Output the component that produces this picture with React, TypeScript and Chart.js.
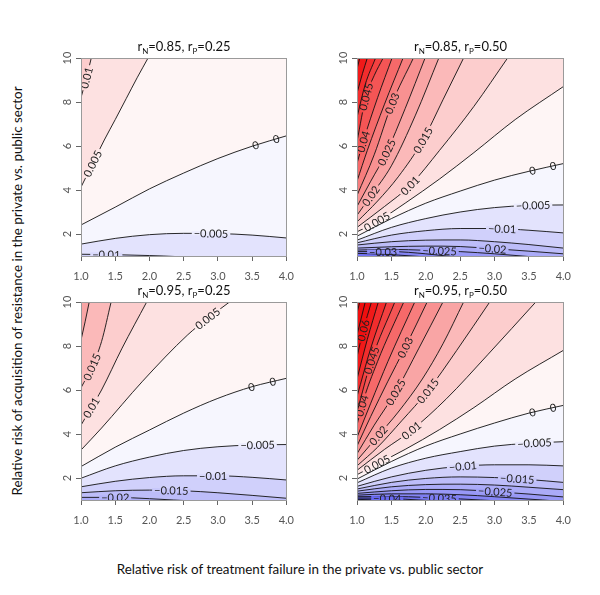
import React, { useEffect, useRef } from "react";
import { Chart, registerables } from "chart.js";
Chart.register(...registerables);

const FONT = "Lato, 'Open Sans', 'DejaVu Sans', sans-serif";

type Pt = [number, number];

const xTicks = [1.0, 1.5, 2.0, 2.5, 3.0, 3.5, 4.0];
const yTicks = [2, 4, 6, 8, 10];

// ---------- Panel 1: rN=0.85, rP=0.25 ----------
const p1Levels = [0.01, 0.005, 0, -0.005, -0.01];
const p1Lines: Pt[][] = [
  [[1, 8.2], [1.08, 9.1], [1.15, 10]],
  [[1, 4.13], [1.17, 5.2], [1.34, 6.27], [1.5, 7.2], [1.66, 8.15], [1.82, 9.1], [1.98, 10]],
  [[1, 2.41], [1.5, 3.22], [2, 4.05], [2.5, 4.77], [3, 5.43], [3.5, 5.99], [4, 6.46]],
  [[1, 1.54], [1.5, 1.8], [2, 1.97], [2.5, 2.03], [3, 2.02], [3.5, 1.95], [4, 1.82]],
  [[1, 1.08], [1.5, 1.06], [2, 1.02], [2.2, 1.0], [2.5, 0.96], [4, 0.8]],
];
const p1Labels: Pt[] = [[0.01, 1.08], [0.005, 1.17], [0, 3.55], [0, 3.85], [-0.005, 2.9], [-0.01, 1.37]];

// ---------- Panel 2: rN=0.85, rP=0.50 ----------
const p2Levels = [0.06, 0.055, 0.05, 0.045, 0.04, 0.035, 0.03, 0.025, 0.02, 0.015, 0.01, 0.005, 0,
  -0.005, -0.01, -0.015, -0.02, -0.025, -0.03, -0.035];
const p2Lines: Pt[][] = [
  [[1, 9.5], [1.04, 10]],
  [[1, 8.4], [1.08, 9.3], [1.15, 10]],
  [[1, 7.3], [1.12, 8.8], [1.27, 10]],
  [[1, 6.2], [1.13, 8.24], [1.25, 9.2], [1.38, 10]],
  [[1, 5.2], [1.09, 6.2], [1.3, 8.2], [1.51, 10]],
  [[1, 4.4], [1.15, 5.8], [1.4, 7.9], [1.67, 10]],
  [[1, 3.75], [1.25, 5.6], [1.51, 7.94], [1.82, 10]],
  [[1, 3.25], [1.2, 4.4], [1.43, 5.71], [1.7, 7.7], [1.99, 10]],
  [[1, 2.85], [1.2, 3.73], [1.5, 5.1], [1.85, 7.4], [2.19, 10]],
  [[1, 2.55], [1.3, 3.5], [1.6, 4.6], [1.96, 6.27], [2.25, 8.1], [2.55, 10]],
  [[1, 2.3], [1.4, 3.25], [1.77, 4.2], [2.2, 5.8], [2.7, 7.8], [3.19, 10]],
  [[1, 2.1], [1.29, 2.56], [1.7, 3.4], [2.2, 4.5], [2.7, 5.7], [3.3, 7.2], [4, 8.7]],
  [[1, 1.9], [1.5, 2.7], [2, 3.4], [2.5, 3.95], [3, 4.45], [3.5, 4.85], [4, 5.2]],
  [[1, 1.72], [1.5, 2.3], [2, 2.7], [2.5, 3.0], [3, 3.2], [3.5, 3.3], [4, 3.32]],
  [[1, 1.6], [1.5, 1.95], [2, 2.15], [2.5, 2.25], [3, 2.25], [3.5, 2.17], [4, 2.05]],
  [[1, 1.5], [1.5, 1.65], [2, 1.72], [2.5, 1.73], [3, 1.65], [3.5, 1.52], [4, 1.36]],
  [[1, 1.36], [1.5, 1.42], [2, 1.45], [2.5, 1.43], [3, 1.33], [3.5, 1.22], [4, 1.1]],
  [[1, 1.27], [1.5, 1.3], [2, 1.26], [2.5, 1.2], [3, 1.1], [3.4, 1.0], [4, 0.85]],
  [[1, 1.2], [1.5, 1.2], [2, 1.1], [2.3, 1.0], [4, 0.6]],
  [[1, 1.12], [1.4, 1.08], [1.8, 1.0], [4, 0.55]],
];
const p2Labels: Pt[] = [[0.045, 1.13], [0.04, 1.09], [0.03, 1.51], [0.025, 1.43], [0.02, 1.2], [0.015, 1.96],
  [0.01, 1.77], [0.005, 1.29], [0, 3.55], [0, 3.85], [-0.005, 3.56], [-0.01, 3.11], [-0.02, 2.97],
  [-0.025, 2.2], [-0.03, 1.38]];

// ---------- Panel 3: rN=0.95, rP=0.25 ----------
const p3Levels = [0.02, 0.015, 0.01, 0.005, 0, -0.005, -0.01, -0.015, -0.02];
const p3Lines: Pt[][] = [
  [[1, 8.27], [1.06, 9.1], [1.12, 10]],
  [[1, 6.1], [1.16, 7.05], [1.3, 8.2], [1.44, 10]],
  [[1, 4.4], [1.15, 5.2], [1.3, 6.0], [1.6, 7.9], [1.96, 10]],
  [[1, 3.27], [1.3, 4.27], [1.9, 6.4], [2.56, 8.51], [2.85, 9.25], [3.17, 10]],
  [[1, 2.52], [1.5, 3.4], [2, 4.18], [2.5, 4.95], [3, 5.62], [3.5, 6.15], [4, 6.53]],
  [[1, 1.99], [1.5, 2.55], [2, 2.95], [2.5, 3.25], [3, 3.42], [3.5, 3.5], [4, 3.52]],
  [[1, 1.6], [1.5, 1.85], [2, 2.02], [2.5, 2.1], [3, 2.1], [3.5, 2.03], [4, 1.91]],
  [[1, 1.33], [1.5, 1.42], [2, 1.45], [2.5, 1.42], [3, 1.33], [3.5, 1.21], [4, 1.08]],
  [[1, 1.12], [1.5, 1.12], [2, 1.06], [2.35, 1.0], [3, 0.9], [4, 0.7]],
];
const p3Labels: Pt[] = [[0.015, 1.16], [0.01, 1.15], [0.005, 2.85], [0, 3.49], [0, 3.8], [-0.005, 3.58],
  [-0.01, 2.93], [-0.015, 2.32], [-0.02, 1.5]];

// ---------- Panel 4: rN=0.95, rP=0.50 ----------
const p4Levels = [0.07, 0.065, 0.06, 0.055, 0.05, 0.045, 0.04, 0.035, 0.03, 0.025, 0.02, 0.015, 0.01, 0.005, 0,
  -0.005, -0.01, -0.015, -0.02, -0.025, -0.03, -0.035, -0.04, -0.045];
const p4Lines: Pt[][] = [
  [[1, 9.5], [1.04, 10]],
  [[1, 8.5], [1.12, 10]],
  [[1, 7.5], [1.09, 8.71], [1.21, 10]],
  [[1, 6.5], [1.15, 8.3], [1.31, 10]],
  [[1, 5.7], [1.2, 7.9], [1.43, 10]],
  [[1, 5.0], [1.21, 7.35], [1.55, 10]],
  [[1, 4.4], [1.07, 5.29], [1.3, 7.3], [1.68, 10]],
  [[1, 3.85], [1.2, 5.4], [1.45, 7.3], [1.84, 10]],
  [[1, 3.45], [1.2, 4.8], [1.45, 6.4], [1.7, 7.93], [2.02, 10]],
  [[1, 3.1], [1.25, 4.4], [1.56, 5.9], [1.9, 7.9], [2.25, 10]],
  [[1, 2.8], [1.31, 3.93], [1.6, 5.0], [1.95, 6.5], [2.25, 8.1], [2.55, 10]],
  [[1, 2.55], [1.3, 3.4], [1.65, 4.6], [2.03, 5.96], [2.45, 7.8], [2.93, 10]],
  [[1, 2.35], [1.4, 3.3], [1.79, 4.16], [2.3, 5.6], [2.9, 7.6], [3.6, 10]],
  [[1, 2.15], [1.29, 2.63], [1.7, 3.3], [2.2, 4.2], [2.7, 5.2], [3.3, 6.5], [4, 7.8]],
  [[1, 1.95], [1.5, 2.75], [2, 3.45], [2.5, 4.0], [3, 4.5], [3.5, 4.95], [4, 5.3]],
  [[1, 1.78], [1.5, 2.45], [2, 2.9], [2.5, 3.2], [3, 3.45], [3.5, 3.58], [4, 3.65]],
  [[1, 1.62], [1.5, 2.05], [2, 2.35], [2.5, 2.53], [3, 2.6], [3.5, 2.6], [4, 2.55]],
  [[1, 1.5], [1.5, 1.8], [2, 1.98], [2.5, 2.05], [3, 2.02], [3.5, 1.93], [4, 1.8]],
  [[1, 1.4], [1.5, 1.6], [2, 1.7], [2.5, 1.72], [3, 1.68], [3.5, 1.58], [4, 1.47]],
  [[1, 1.3], [1.5, 1.42], [2, 1.48], [2.5, 1.47], [3, 1.38], [3.5, 1.27], [4, 1.14]],
  [[1, 1.22], [1.5, 1.28], [2, 1.28], [2.5, 1.24], [3, 1.15], [3.5, 1.04], [3.7, 1.0], [4, 0.93]],
  [[1, 1.15], [1.5, 1.16], [2, 1.12], [2.5, 1.05], [2.8, 1.0], [4, 0.8]],
  [[1, 1.09], [1.5, 1.07], [1.9, 1.0], [4, 0.7]],
  [[1, 1.03], [1.3, 1.0], [4, 0.6]],
];
const p4Labels: Pt[] = [[0.06, 1.09], [0.045, 1.21], [0.04, 1.07], [0.03, 1.7], [0.025, 1.56], [0.02, 1.31],
  [0.015, 2.03], [0.01, 1.79], [0.005, 1.29], [0, 3.55], [0, 3.85], [-0.005, 3.58], [-0.01, 2.54],
  [-0.015, 3.33], [-0.025, 3.01], [-0.035, 2.2], [-0.04, 1.44]];

const PANELS = [
  { rn: "0.85", rp: "0.25", levels: p1Levels, lines: p1Lines, labels: p1Labels, L: 81, T: 58, R: 287, B: 256 },
  { rn: "0.85", rp: "0.50", levels: p2Levels, lines: p2Lines, labels: p2Labels, L: 357, T: 58, R: 564, B: 256 },
  { rn: "0.95", rp: "0.25", levels: p3Levels, lines: p3Lines, labels: p3Labels, L: 81, T: 302, R: 287, B: 500 },
  { rn: "0.95", rp: "0.50", levels: p4Levels, lines: p4Lines, labels: p4Labels, L: 357, T: 302, R: 564, B: 500 },
];

const POS = [240, 15, 15];
const NEG = [30, 30, 235];
const ZMAX = 0.06;
function colorFor(z: number) {
  const t = Math.min(Math.abs(z) / ZMAX, 1);
  const e = z >= 0 ? POS : NEG;
  const c = e.map((v) => Math.round(255 + (v - 255) * t));
  return `rgb(${c[0]},${c[1]},${c[2]})`;
}

const PAD_L = 45, PAD_T = 10, PAD_R = 16, PAD_B = 40;

function ContourPanel({ panel }: { panel: any }) {
  const ref = useRef<HTMLCanvasElement>(null);
  const W = panel.R - panel.L + PAD_L + PAD_R;
  const H = panel.B - panel.T + PAD_T + PAD_B;

  useEffect(() => {
    const idx = panel.levels.map((_: number, i: number) => i)
      .sort((a: number, b: number) => panel.levels[b] - panel.levels[a]);
    const lvls: number[] = idx.map((i: number) => panel.levels[i]);
    const lines: Pt[][] = idx.map((i: number) => panel.lines[i]);
    const datasets = lvls.map((lv, k) => ({
      data: lines[k].map(([x, y]) => ({ x, y })),
      borderColor: "#111",
      borderWidth: 0.9,
      pointRadius: 0,
      fill: "end",
      backgroundColor: colorFor(lv + 0.0025),
      cubicInterpolationMode: "monotone",
    }));
    const minLv = lvls[lvls.length - 1];

    const bgPlugin = {
      id: "bg",
      beforeDraw(chart: any) {
        const { ctx, chartArea: a } = chart;
        ctx.save();
        ctx.fillStyle = colorFor(minLv - 0.0025);
        ctx.fillRect(a.left, a.top, a.right - a.left, a.bottom - a.top);
        ctx.restore();
      },
    };

    const labelPlugin = {
      id: "clabels",
      afterDatasetsDraw(chart: any) {
        const { ctx, chartArea: a } = chart;
        const xs = chart.scales.x;
        ctx.save();
        ctx.beginPath();
        ctx.rect(a.left, a.top, a.right - a.left, a.bottom - a.top);
        ctx.clip();
        ctx.font = `11px ${FONT}`;
        panel.labels.forEach(([lv, x]: Pt) => {
          const k = lvls.findIndex((v) => Math.abs(v - lv) < 1e-9);
          if (k < 0) return;
          const el = chart.getDatasetMeta(k).dataset;
          const px = xs.getPixelForValue(x);
          const pick = (q: any) => (Array.isArray(q) ? q[0] : q);
          const p0 = pick(el.interpolate({ x: px }, "x"));
          if (!p0) return;
          const pa = pick(el.interpolate({ x: px - 1.5 }, "x")) || p0;
          const pb = pick(el.interpolate({ x: px + 1.5 }, "x")) || p0;
          const ang = Math.atan2(pb.y - pa.y, pb.x - pa.x);
          const text = lv === 0 ? "0" : (lv < 0 ? "\u2212" : "") + String(Math.abs(lv));
          const tw = ctx.measureText(text).width;
          ctx.save();
          ctx.translate(p0.x, p0.y);
          ctx.rotate(ang);
          if (lv !== 0) {
            ctx.fillStyle = colorFor(lv);
            ctx.fillRect(-tw / 2 - 2, -2, tw + 4, 4);
          }
          ctx.fillStyle = "#222";
          ctx.textAlign = "center";
          ctx.textBaseline = "middle";
          ctx.fillText(text, 0, 0.5);
          ctx.restore();
        });
        ctx.restore();
      },
    };

    const framePlugin = {
      id: "frame",
      afterDraw(chart: any) {
        const { ctx, chartArea: a } = chart;
        const ys = chart.scales.y;
        ctx.save();
        ctx.strokeStyle = "#9a9a9a";
        ctx.lineWidth = 1;
        ctx.strokeRect(Math.round(a.left) + 0.5, Math.round(a.top) + 0.5,
          Math.round(a.right - a.left), Math.round(a.bottom - a.top));
        ctx.fillStyle = "#555";
        ctx.font = `11px ${FONT}`;
        ctx.textAlign = "center";
        ctx.textBaseline = "middle";
        yTicks.forEach((v) => {
          const py = ys.getPixelForValue(v);
          ctx.save();
          ctx.translate(a.left - 14, py);
          ctx.rotate(-Math.PI / 2);
          ctx.fillText(String(v), 0, 0);
          ctx.restore();
        });
        ctx.restore();
      },
    };

    const chart = new Chart(ref.current as HTMLCanvasElement, {
      type: "line",
      data: { datasets: datasets as any },
      plugins: [bgPlugin, labelPlugin, framePlugin],
      options: {
        animation: false,
        responsive: false,
        events: [],
        layout: { padding: { left: 0, top: PAD_T, right: PAD_R, bottom: 0 } },
        plugins: { legend: { display: false }, tooltip: { enabled: false }, title: { display: false } },
        scales: {
          x: {
            type: "linear",
            min: 1,
            max: 4,
            afterBuildTicks: (s: any) => { s.ticks = xTicks.map((v) => ({ value: v })); },
            afterFit: (s: any) => { s.height = PAD_B; },
            ticks: {
              autoSkip: false,
              maxRotation: 0,
              padding: 9,
              color: "#555",
              font: { size: 11, family: FONT },
              callback: (v: any) => Number(v).toFixed(1),
            },
            grid: { drawOnChartArea: false, drawTicks: true, tickLength: 5, color: "#666" },
            border: { display: true, color: "#666" },
          },
          y: {
            type: "linear",
            min: 1,
            max: 10,
            afterBuildTicks: (s: any) => { s.ticks = yTicks.map((v) => ({ value: v })); },
            afterFit: (s: any) => { s.width = PAD_L; },
            ticks: { display: false },
            grid: { drawOnChartArea: false, drawTicks: true, tickLength: 5, color: "#666" },
            border: { display: true, color: "#666" },
          },
        },
      } as any,
    });
    return () => chart.destroy();
  }, [panel]);

  return (
    <canvas
      ref={ref}
      width={W}
      height={H}
      style={{ position: "absolute", left: panel.L - PAD_L, top: panel.T - PAD_T, width: W, height: H }}
    />
  );
}

export default function App() {
  return (
    <div style={{ position: "absolute", left: 0, top: 0, width: 600, height: 595, background: "#fff", fontFamily: FONT }}>
      {PANELS.map((p, i) => (
        <ContourPanel key={"c" + i} panel={p} />
      ))}
      {PANELS.map((p, i) => (
        <div
          key={"t" + i}
          style={{
            position: "absolute",
            left: (p.L + p.R) / 2 - 100,
            width: 200,
            top: p.T - 19,
            textAlign: "center",
            fontSize: 13,
            lineHeight: "14px",
            color: "#111",
            whiteSpace: "nowrap",
          }}
        >
          r<sub style={{ fontSize: 8, verticalAlign: "-3px", lineHeight: 0 }}>N</sub>={p.rn}, r
          <sub style={{ fontSize: 8, verticalAlign: "-3px", lineHeight: 0 }}>P</sub>={p.rp}
        </div>
      ))}
      <div
        style={{
          position: "absolute",
          left: 300,
          top: 569,
          transform: "translate(-50%, -50%)",
          fontSize: 13.4,
          color: "#111",
          whiteSpace: "nowrap",
        }}
      >
        Relative risk of treatment failure in the private vs. public sector
      </div>
      <div
        style={{
          position: "absolute",
          left: 17,
          top: 291,
          transform: "translate(-50%, -50%) rotate(-90deg)",
          fontSize: 13.4,
          color: "#111",
          whiteSpace: "nowrap",
        }}
      >
        Relative risk of acquisition of resistance in the private vs. public sector
      </div>
    </div>
  );
}
